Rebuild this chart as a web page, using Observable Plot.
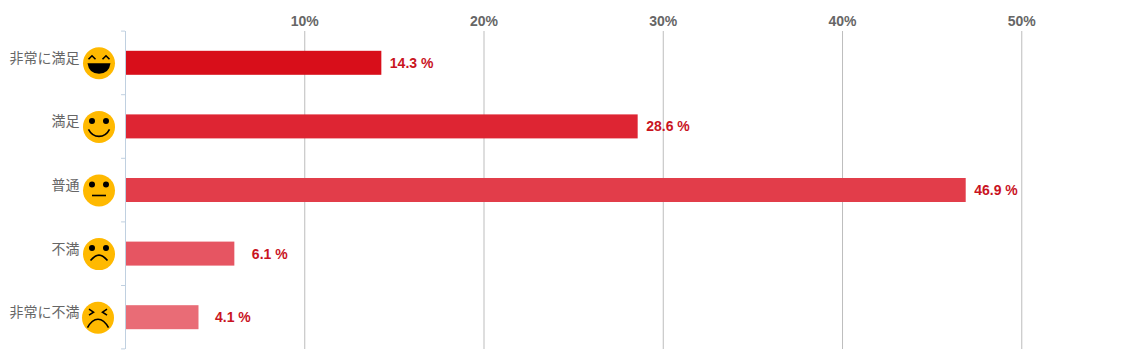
<!DOCTYPE html>
<html><head><meta charset="utf-8">
<style>html,body{margin:0;padding:0;background:#fff}svg{display:block}</style>
<script src="https://cdn.jsdelivr.net/npm/d3@7"></script>
<script src="https://cdn.jsdelivr.net/npm/@observablehq/plot@0.6"></script>
</head><body><script>
const categories = ["非常に満足","満足","普通","不満","非常に不満"];
const values = [14.3,28.6,46.9,6.1,4.1];
const barColors = ["#d80e1a","#de2533","#e23d4a","#e65562","#e96c76"];
const xTicks = [10,20,30,40,50];
const labelOffsets = [8,8,8,17,16];
const faceOffsets = [-26.5,-26.5,-26.5,-26.5,-27.5];
const rows = categories.map((c,i)=>({c,v:values[i],col:barColors[i],off:labelOffsets[i],face:faceOffsets[i]}));

const eyes = {draw(p){ for(const s of [-1,1]){p.moveTo(s*7+3,-6);p.arc(s*7,-6,3,0,2*Math.PI);} }};
const laughMouth = {draw(p){p.moveTo(-11.5,0);p.lineTo(11.5,0);p.quadraticCurveTo(10,10.5,0,10.5);p.quadraticCurveTo(-10,10.5,-11.5,0);p.closePath();}};
const laughEyes = {draw(p){ for(const s of [-1,1]){p.moveTo(s*7-3.5,-4);p.lineTo(s*7,-7.5);p.lineTo(s*7+3.5,-4);} }};
const smile = {draw(p){p.moveTo(-10.5,2.5);p.quadraticCurveTo(-7,9.5,0,9.5);p.quadraticCurveTo(7,9.5,10.5,2.5);}};
const flat = {draw(p){p.moveTo(-7,5);p.lineTo(7,5);}};
const frown = {draw(p){p.moveTo(-8.5,6.5);p.quadraticCurveTo(-4,1,0,1);p.quadraticCurveTo(4,1,8.5,6.5);}};
const angry = {draw(p){
  p.moveTo(-9,-8.5);p.lineTo(-4.5,-5.5);p.lineTo(-9,-2.5);
  p.moveTo(9,-8.5);p.lineTo(4.5,-5.5);p.lineTo(9,-2.5);
  p.moveTo(-10.5,10);p.quadraticCurveTo(-6,1.5,0,1.5);p.quadraticCurveTo(6,1.5,10.5,10);
}};
const faceFills = [[laughMouth],[eyes],[eyes],[eyes],[]];
const faceStrokes = [[laughEyes],[smile],[flat],[frown],[angry]];

const faceMarks = rows.flatMap((r,i)=>{
  const base = {x:()=>0,y:d=>d.c,dx:r.face,dy:0};
  return [
    Plot.dot([r],{...base,r:16,fill:"#ffb900",stroke:"none"}),
    ...faceFills[i].map(s=>Plot.dot([r],{...base,r:5,symbol:s,fill:"#000",stroke:"none"})),
    ...faceStrokes[i].map(s=>Plot.dot([r],{...base,r:5,symbol:s,fill:"none",stroke:"#000",strokeWidth:1.6}))
  ];
});

const chart = Plot.plot({
  width:1122,height:363,
  marginLeft:125,marginRight:11,marginTop:31,marginBottom:14,
  style:{background:"#fff",fontFamily:"'Liberation Sans',Arial,sans-serif"},
  x:{domain:[0,55],range:[125,1110.9],axis:null},
  y:{domain:categories,range:[31,349],padding:0,round:false,axis:null},
  marks:[
    Plot.axisX({anchor:"top",ticks:xTicks,tickFormat:d=>d+"%",tickSize:0,tickPadding:6,label:null,fontSize:14,fontWeight:"bold",fill:"#666"}),
    Plot.ruleX(xTicks,{stroke:"#bdbdbd",strokeWidth:1}),
    Plot.barX(rows,{x1:()=>0,x2:"v",y:"c",fill:"col",insetTop:19.8,insetBottom:19.8}),
    Plot.ruleX([0],{stroke:"#c0d0e0",strokeWidth:1}),
    Plot.ruleY(rows,{y:"c",dy:-32.2,x1:()=>-0.22,x2:()=>0,stroke:"#c0d0e0"}),
    Plot.ruleY(rows.slice(-1),{y:"c",dy:31.2,x1:()=>-0.22,x2:()=>0,stroke:"#c0d0e0"}),
    ...rows.map(r=>Plot.text([r],{x:"v",y:"c",text:d=>d.v.toFixed(1)+" %",dx:r.off,textAnchor:"start",fontSize:14,fontWeight:"bold",fill:"#c9141f",stroke:"none"})),
    Plot.text(rows,{x:()=>0,y:"c",text:"c",dx:-46,dy:-5,textAnchor:"end",fontSize:14,fontFamily:"'Noto Sans CJK JP'",fill:"#666"}),
    ...faceMarks
  ]
});
document.body.appendChild(chart);
</script></body></html>
